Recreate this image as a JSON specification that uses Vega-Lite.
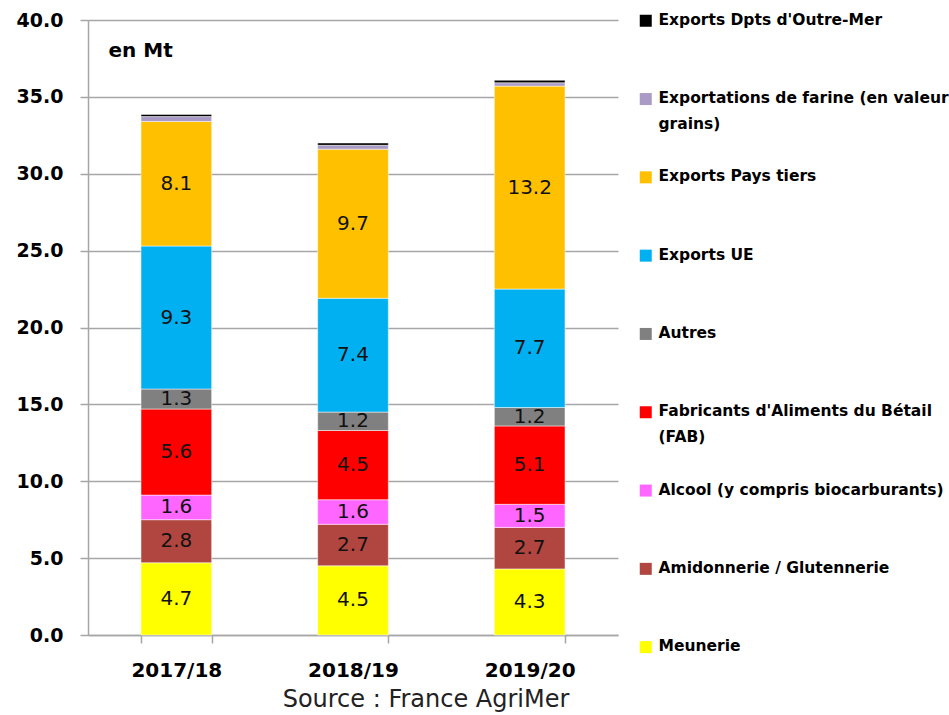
{
  "$schema": "https://vega.github.io/schema/vega-lite/v6.json",
  "width": 530,
  "height": 615,
  "autosize": {"type": "none"},
  "padding": {"left": 88, "top": 20, "right": 331, "bottom": 80},
  "background": "white",
  "title": {
    "text": "Source : France AgriMer",
    "orient": "bottom",
    "anchor": "middle",
    "dx": 73,
    "offset": 7,
    "font": "DejaVu Sans",
    "fontSize": 24,
    "fontWeight": "normal",
    "color": "#222222"
  },
  "data": {
    "values": [
      {"year": "2017/18", "cat": "Meunerie", "value": 4.7, "order": 1},
      {"year": "2017/18", "cat": "Amidonnerie / Glutennerie", "value": 2.8, "order": 2},
      {"year": "2017/18", "cat": "Alcool (y compris biocarburants)", "value": 1.6, "order": 3},
      {"year": "2017/18", "cat": "Fabricants d'Aliments du Bétail (FAB)", "value": 5.6, "order": 4},
      {"year": "2017/18", "cat": "Autres", "value": 1.3, "order": 5},
      {"year": "2017/18", "cat": "Exports UE", "value": 9.3, "order": 6},
      {"year": "2017/18", "cat": "Exports Pays tiers", "value": 8.1, "order": 7},
      {"year": "2017/18", "cat": "Exportations de farine (en valeur grains)", "value": 0.32, "order": 8},
      {"year": "2017/18", "cat": "Exports Dpts d'Outre-Mer", "value": 0.14, "order": 9},
      {"year": "2018/19", "cat": "Meunerie", "value": 4.5, "order": 1},
      {"year": "2018/19", "cat": "Amidonnerie / Glutennerie", "value": 2.7, "order": 2},
      {"year": "2018/19", "cat": "Alcool (y compris biocarburants)", "value": 1.6, "order": 3},
      {"year": "2018/19", "cat": "Fabricants d'Aliments du Bétail (FAB)", "value": 4.5, "order": 4},
      {"year": "2018/19", "cat": "Autres", "value": 1.2, "order": 5},
      {"year": "2018/19", "cat": "Exports UE", "value": 7.4, "order": 6},
      {"year": "2018/19", "cat": "Exports Pays tiers", "value": 9.7, "order": 7},
      {"year": "2018/19", "cat": "Exportations de farine (en valeur grains)", "value": 0.25, "order": 8},
      {"year": "2018/19", "cat": "Exports Dpts d'Outre-Mer", "value": 0.15, "order": 9},
      {"year": "2019/20", "cat": "Meunerie", "value": 4.3, "order": 1},
      {"year": "2019/20", "cat": "Amidonnerie / Glutennerie", "value": 2.7, "order": 2},
      {"year": "2019/20", "cat": "Alcool (y compris biocarburants)", "value": 1.5, "order": 3},
      {"year": "2019/20", "cat": "Fabricants d'Aliments du Bétail (FAB)", "value": 5.1, "order": 4},
      {"year": "2019/20", "cat": "Autres", "value": 1.2, "order": 5},
      {"year": "2019/20", "cat": "Exports UE", "value": 7.7, "order": 6},
      {"year": "2019/20", "cat": "Exports Pays tiers", "value": 13.2, "order": 7},
      {"year": "2019/20", "cat": "Exportations de farine (en valeur grains)", "value": 0.22, "order": 8},
      {"year": "2019/20", "cat": "Exports Dpts d'Outre-Mer", "value": 0.16, "order": 9}
    ]
  },
  "encoding": {
    "x": {
      "field": "year",
      "type": "nominal",
      "scale": {"paddingInner": 0.6, "paddingOuter": 0.3},
      "axis": {
        "title": null,
        "labelAngle": 0,
        "labelFont": "DejaVu Sans",
        "labelFontSize": 20,
        "labelFontWeight": "bold",
        "labelColor": "#000000",
        "labelPadding": 17,
        "domainColor": "#a6a6a6",
        "domainWidth": 1.5,
        "tickColor": "#a6a6a6",
        "tickWidth": 1.5,
        "tickSize": 8,
        "tickBand": "extent",
        "grid": false
      }
    }
  },
  "layer": [
    {
      "mark": {"type": "bar", "stroke": "white", "strokeWidth": 0.5},
      "encoding": {
        "y": {
          "field": "value",
          "type": "quantitative",
          "stack": "zero",
          "scale": {"domain": [0, 40], "nice": false},
          "axis": {
            "title": "en Mt",
            "titleAngle": 0,
            "titleX": 20,
            "titleY": 30,
            "titleAlign": "left",
            "titleBaseline": "middle",
            "titleFont": "DejaVu Sans",
            "titleFontSize": 20,
            "titleFontWeight": "bold",
            "titleColor": "#000000",
            "values": [0, 5, 10, 15, 20, 25, 30, 35, 40],
            "format": ".1f",
            "labelFont": "DejaVu Sans",
            "labelFontSize": 19,
            "labelFontWeight": "bold",
            "labelColor": "#000000",
            "labelPadding": 17,
            "tickSize": 8,
            "tickColor": "#a6a6a6",
            "tickWidth": 1.5,
            "domainColor": "#a6a6a6",
            "domainWidth": 1.5,
            "grid": true,
            "gridColor": "#a6a6a6",
            "gridWidth": 1.5
          }
        },
        "color": {
          "field": "cat",
          "type": "nominal",
          "scale": {
            "domain": [
              "Exports Dpts d'Outre-Mer",
              "Exportations de farine (en valeur grains)",
              "Exports Pays tiers",
              "Exports UE",
              "Autres",
              "Fabricants d'Aliments du Bétail (FAB)",
              "Alcool (y compris biocarburants)",
              "Amidonnerie / Glutennerie",
              "Meunerie"
            ],
            "range": ["#000000", "#a99bc6", "#ffc000", "#00b0f0", "#808080", "#ff0000", "#ff66ff", "#b0463f", "#ffff00"]
          },
          "legend": {
            "title": null,
            "orient": "none",
            "legendX": 550,
            "legendY": -3,
            "padding": 0,
            "symbolType": "M-1,-1.667H1V0.333H-1Z",
            "symbolSize": 144,
            "symbolStrokeWidth": 0,
            "rowPadding": 35.3,
            "labelOffset": 5,
            "labelFont": "DejaVu Sans",
            "labelFontSize": 15.5,
            "labelFontWeight": "bold",
            "labelColor": "#000000",
            "labelLimit": 500,
            "labelBaseline": "alphabetic",
            "labelExpr": "indexof(datum.label, 'Exportations de farine') == 0 ? ['Exportations de farine (en valeur', 'grains)'] : indexof(datum.label, 'Fabricants') == 0 ? [\"Fabricants d'Aliments du Bétail\", '(FAB)'] : [datum.label, ' ']"
          }
        },
        "order": {"field": "order", "type": "quantitative"}
      }
    },
    {
      "transform": [
        {"stack": "value", "groupby": ["year"], "sort": [{"field": "order", "order": "ascending"}], "as": ["v0", "v1"]},
        {"filter": "datum.order <= 7"},
        {"calculate": "(datum.v0 + datum.v1) / 2", "as": "mid"}
      ],
      "mark": {"type": "text", "font": "DejaVu Sans", "fontSize": 20, "color": "#111111", "baseline": "middle", "align": "center"},
      "encoding": {
        "y": {"field": "mid", "type": "quantitative"},
        "text": {"field": "value", "type": "quantitative", "format": ".1f"}
      }
    }
  ],
  "config": {
    "view": {"stroke": null},
    "style": {"guide-label": {"lineHeight": 26}}
  }
}
